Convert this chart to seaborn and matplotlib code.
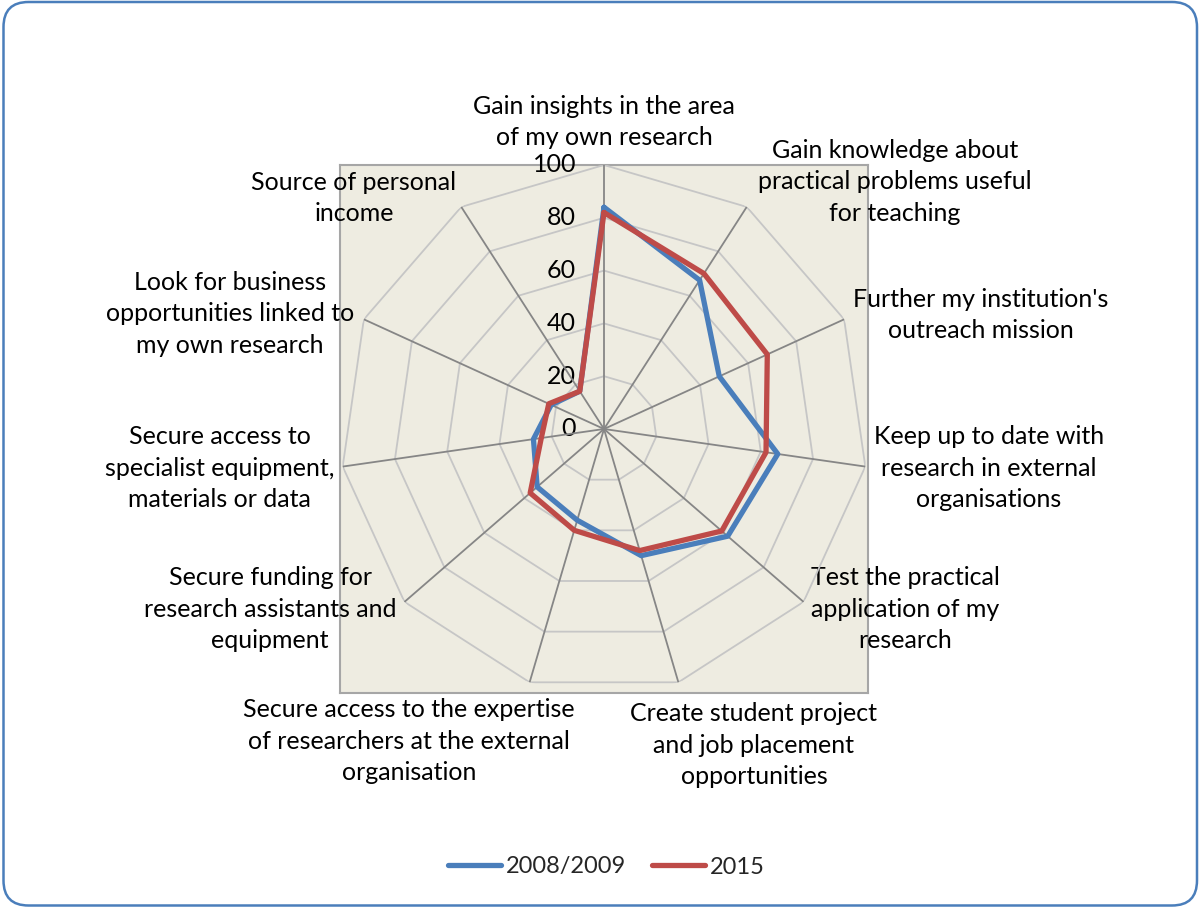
import numpy as np
import pandas as pd
import matplotlib
matplotlib.use("Agg")
import matplotlib.pyplot as plt
import seaborn as sns
from matplotlib.patches import FancyBboxPatch
from matplotlib.lines import Line2D

# ---------------- data ----------------
categories = [
    "Gain insights in the area\nof my own research",
    "Gain knowledge about\npractical problems useful\nfor teaching",
    "Further my institution's\noutreach mission",
    "Keep up to date with\nresearch in external\norganisations",
    "Test the practical\napplication of my\nresearch",
    "Create student project\nand job placement\nopportunities",
    "Secure access to the expertise\nof researchers at the external\norganisation",
    "Secure funding for\nresearch assistants and\nequipment",
    "Secure access to\nspecialist equipment,\nmaterials or data",
    "Look for business\nopportunities linked to\nmy own research",
    "Source of personal\nincome",
]
series_names = ["2008/2009", "2015"]
values_2008 = [84, 67, 48, 66.5, 62, 50, 36, 33.5, 27, 22, 17]
values_2015 = [82, 70, 68, 62, 59, 48, 40, 37, 24, 23, 17]
r_ticks = [0, 20, 40, 60, 80, 100]
tick_labels = ["0", "20", "40", "60", "80", "100"]

# ---------------- style ----------------
sns.set_theme(style="white")
plt.rcParams["font.family"] = ["Lato", "DejaVu Sans"]
FS = 18
colors = {"2008/2009": "#4A7EBB", "2015": "#BE4B48"}

fig = plt.figure(figsize=(12.01, 9.09), dpi=100)
fig.patch.set_facecolor("white")

pos = [340 / 1201, (909 - 693) / 909, 528 / 1201, 528 / 909]

# square background plot area
bg = fig.add_axes(pos)
bg.set_facecolor("#EEECE1")
bg.set_xlim(-100, 100)
bg.set_ylim(-100, 100)
bg.set_xticks([])
bg.set_yticks([])
for s in bg.spines.values():
    s.set_color("#A6A6A6")
    s.set_linewidth(1.5)

# polar axes for the radar
ax = fig.add_axes(pos, projection="polar")
ax.patch.set_alpha(0)
ax.set_theta_zero_location("N")
ax.set_theta_direction(-1)
ax.grid(False)
ax.spines["polar"].set_visible(False)

n = len(categories)
theta = np.linspace(0, 2 * np.pi, n, endpoint=False)
theta_closed = np.append(theta, theta[0])

for r in r_ticks[1:]:
    ax.plot(theta_closed, [r] * (n + 1), color="#C6C6C6", lw=1.3, zorder=1)
for t in theta:
    ax.plot([t, t], [0, 100], color="#868686", lw=1.3, zorder=2)

rows = []
for name, vals in zip(series_names, [values_2008, values_2015]):
    for i in list(range(n)) + [0]:
        rows.append({"series": name, "theta": theta[i], "value": vals[i]})
df = pd.DataFrame(rows)

sns.lineplot(data=df, x="theta", y="value", hue="series", palette=colors,
             sort=False, estimator=None, lw=3.8, ax=ax, legend=False, zorder=5)
ax.set_ylim(0, 100)
ax.set_xticks([])
ax.set_yticks([])
ax.set_xlabel("")
ax.set_ylabel("")

# radial tick labels
for r, lab in zip(r_ticks, tick_labels):
    bg.text(-10.6, r, lab, ha="right", va="center", fontsize=FS, color="black", zorder=10)

# category labels (layout positions in axis units)
label_pos = [(0, 116.3), (110.2, 93.6), (142.8, 43.2), (145.8, -14.8), (114.0, -68.2),
             (56.8, -119.7), (-73.9, -118.2), (-126.5, -68.2), (-145.5, -14.8),
             (-141.7, 43.6), (-94.7, 87.5)]
for lab, (x, y) in zip(categories, label_pos):
    bg.text(x, y, lab, ha="center", va="center", multialignment="center",
            fontsize=FS, color="black", linespacing=1.45, clip_on=False, zorder=10)

# legend
handles = [Line2D([0], [0], color=colors[s], lw=3.8, solid_capstyle="round") for s in series_names]
fig.legend(handles, series_names, loc="center", bbox_to_anchor=(606 / 1201, 1 - 867 / 909),
           ncol=2, frameon=False, fontsize=17, handlelength=2.25, handletextpad=0.2,
           columnspacing=1.1)

# rounded outer border
fig.add_artist(FancyBboxPatch((0.035, 0.035), 11.935, 9.035,
                              boxstyle="round,pad=0,rounding_size=0.25",
                              transform=fig.dpi_scale_trans, fill=False,
                              ec="#4A7EBB", lw=1.8))

fig.savefig("out.png", dpi=100, facecolor="white")
